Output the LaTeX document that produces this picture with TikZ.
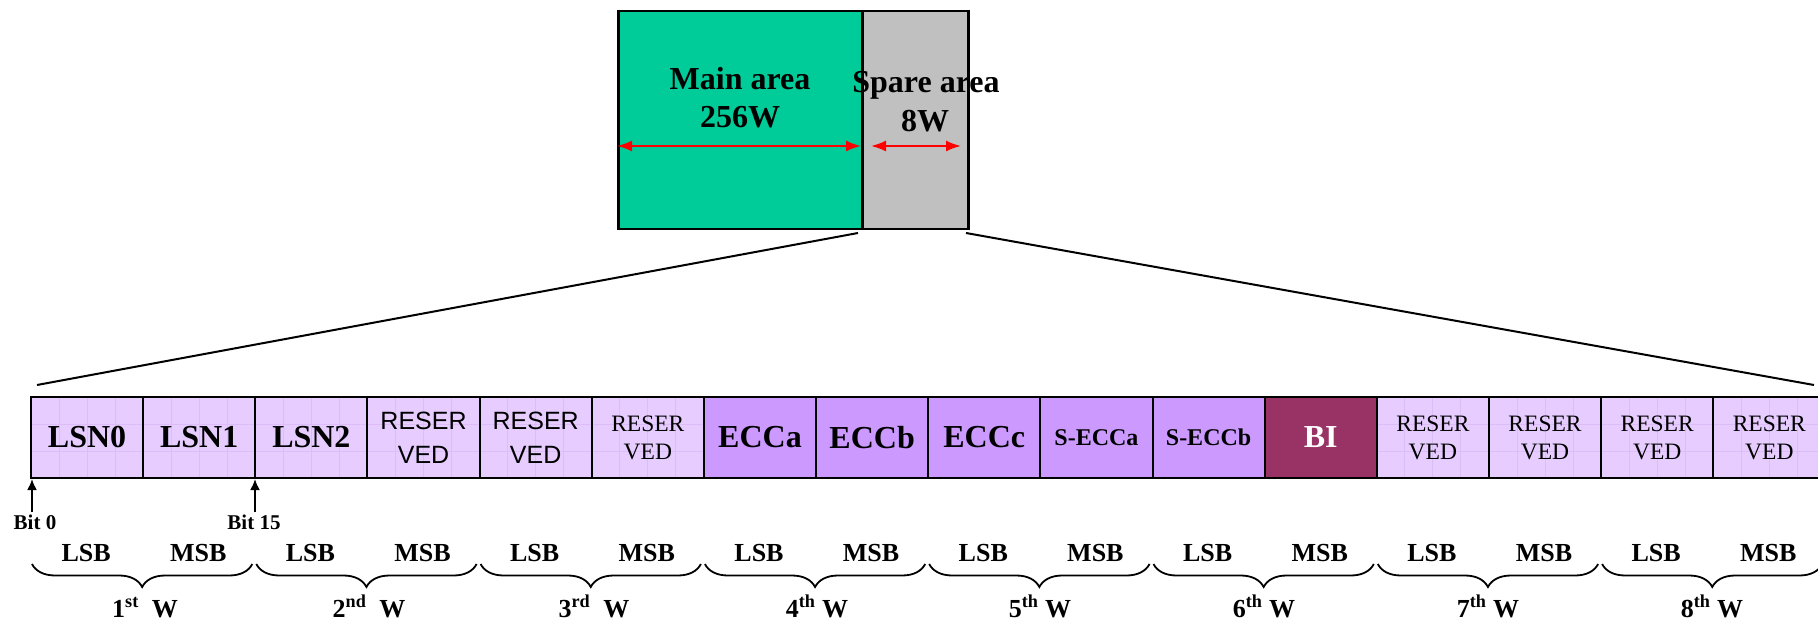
\documentclass[tikz,border=0pt]{standalone}
\usepackage{fontspec}
\setmainfont{Liberation Serif}
\newfontfamily\arialf{Liberation Sans}
\usetikzlibrary{decorations.pathreplacing,arrows.meta}
\definecolor{mainc}{HTML}{00CC99}
\definecolor{sparec}{HTML}{C0C0C0}
\definecolor{lightc}{HTML}{E6CCFF}
\definecolor{gridc}{HTML}{DCBDF8}
\definecolor{medc}{HTML}{CC99FF}
\definecolor{bic}{HTML}{993366}
\tikzset{
  box/.style={draw=black, line width=2pt, minimum width=112.15pt, minimum height=81pt,
    inner sep=0pt, anchor=north west},
  lightcell/.style={box, fill=lightc,
    path picture={
      \foreach \k in {1,2,3}
        \draw[gridc, line width=0.8pt] ([xshift=\k*28pt]path picture bounding box.north west)
          -- ([xshift=\k*28pt]path picture bounding box.south west);
      \foreach \k in {1,2}
        \draw[gridc, line width=0.8pt] ([yshift=-\k*27pt]path picture bounding box.north west)
          -- ([yshift=-\k*27pt]path picture bounding box.north east);
    }},
  medcell/.style={box, fill=medc},
  bicell/.style={box, fill=bic, text=white},
  bigb/.style={font=\fontsize{32}{38}\selectfont\bfseries},
  midb/.style={font=\fontsize{24}{28}\selectfont\bfseries},
  sansr/.style={font=\fontsize{25}{34}\selectfont\arialf, align=center},
  serr/.style={font=\fontsize{23.5}{28}\selectfont, align=center},
  lbl/.style={font=\fontsize{26}{30}\selectfont\bfseries, anchor=base, inner sep=0pt},
  bitlbl/.style={font=\fontsize{21}{24}\selectfont\bfseries, anchor=base, inner sep=0pt},
  toptxt/.style={font=\fontsize{32}{38}\selectfont\bfseries, anchor=base, inner sep=0pt},
  redarr/.style={red, line width=2pt, {Latex[length=15pt,width=11pt]}-{Latex[length=15pt,width=11pt]}},
  bitarr/.style={line width=2pt, -{Latex[length=11pt,width=10pt]}},
  zoomline/.style={line width=2pt},
  wbrace/.style={decorate, decoration={brace, mirror, amplitude=23pt}, line width=1.8pt}
}
\begin{document}
\begin{tikzpicture}[x=1pt,y=-1pt]
\useasboundingbox (0,0) rectangle (1818,620);
\clip (0,0) rectangle (1818,620);
% top block
\node[draw, line width=2.5pt, fill=mainc, minimum width=244pt, minimum height=218pt,
  anchor=north west, inner sep=0pt] (main) at (617,10) {};
\node[draw, line width=2.5pt, fill=sparec, minimum width=106pt, minimum height=218pt,
  anchor=north west, inner sep=0pt] (spare) at (861,10) {};
\node[toptxt] (mainA) at (740,90) {Main area};
\node[toptxt] (mainB) at (740,128) {256W};
\node[toptxt] (spareA) at (926,93) {Spare area};
\node[toptxt] (spareB) at (925,132) {8W};
\coordinate (ma1) at (617,146); \coordinate (ma2) at (861,146);
\coordinate (sa1) at (871,146); \coordinate (sa2) at (961,146);
\draw[redarr] (ma1) -- (ma2);
\draw[redarr] (sa1) -- (sa2);
% zoom lines
\coordinate (zl1) at (858,233); \coordinate (zl2) at (37,385);
\coordinate (zr1) at (966,233); \coordinate (zr2) at (1814,385);
\draw[zoomline] (zl1) -- (zl2);
\draw[zoomline] (zr1) -- (zr2);
% cells
\foreach \i/\sty/\fnt/\txt in {
  0/lightcell/bigb/LSN0, 1/lightcell/bigb/LSN1, 2/lightcell/bigb/LSN2,
  3/lightcell/sansr/RESER\\VED, 4/lightcell/sansr/RESER\\VED, 5/lightcell/serr/RESER\\VED,
  6/medcell/bigb/ECCa, 7/medcell/bigb/ECCb, 8/medcell/bigb/ECCc,
  9/medcell/midb/S-ECCa, 10/medcell/midb/S-ECCb, 11/bicell/bigb/BI,
  12/lightcell/serr/RESER\\VED, 13/lightcell/serr/RESER\\VED,
  14/lightcell/serr/RESER\\VED, 15/lightcell/serr/RESER\\VED}
{
  \node[\sty, \fnt] (c\i) at ({30+112.15*\i},396) {\txt};
}
% bit markers
\coordinate (b0s) at (32,512); \coordinate (b15s) at (255,512);
\coordinate (b0t) at (32,479); \coordinate (b15t) at (255,479);
\draw[bitarr] (b0s) -- (b0t);
\draw[bitarr] (b15s) -- (b15t);
\node[bitlbl] (bit0) at (35,529) {Bit 0};
\node[bitlbl] (bit15) at (254,529) {Bit 15};
% LSB / MSB
\foreach \p in {0,...,7}{
  \pgfmathsetmacro{\xl}{30+224.3*\p}
  \node[lbl] (lsb\p) at ({\xl+56.1},561) {LSB};
  \node[lbl] (msb\p) at ({\xl+168.2},561) {MSB};
  \coordinate (br\p a) at ({\xl+2},564);
  \coordinate (br\p b) at ({\xl+222.3},564);
  \draw[wbrace] (br\p a) -- (br\p b);
}
\node[lbl] (w1) at (145,617) {1\textsuperscript{st}~~W};
\node[lbl] (w2) at (369,617) {2\textsuperscript{nd}~~W};
\node[lbl] (w3) at (594,617) {3\textsuperscript{rd}~~W};
\node[lbl] (w4) at (817,617) {4\textsuperscript{th} W};
\node[lbl] (w5) at (1040,617) {5\textsuperscript{th} W};
\node[lbl] (w6) at (1264,617) {6\textsuperscript{th} W};
\node[lbl] (w7) at (1488,617) {7\textsuperscript{th} W};
\node[lbl] (w8) at (1712,617) {8\textsuperscript{th} W};
\end{tikzpicture}
\end{document}
